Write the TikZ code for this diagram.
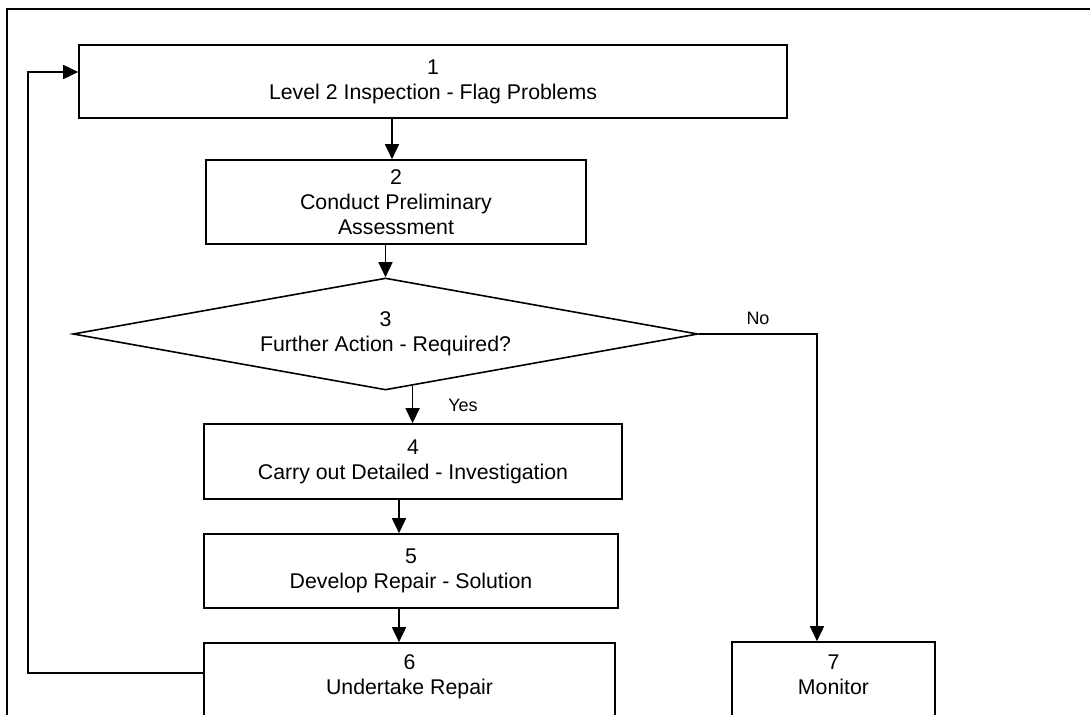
\documentclass[tikz,border=0pt]{standalone}
\usepackage{fontspec}
\setmainfont{Liberation Sans}
\usetikzlibrary{shapes.geometric,arrows.meta,calc}

\tikzset{
  stepbox/.style={draw, line width=1.6pt, rectangle, inner sep=0pt, align=center,
    font=\fontsize{21.3}{25}\selectfont},
  decision/.style={draw, line width=1.6pt, diamond, aspect=5.58, inner sep=0pt, align=center,
    font=\fontsize{21.3}{25}\selectfont},
  arr/.style={line width=1.6pt, -{Triangle[length=15pt,width=14pt]}},
  lbl/.style={font=\fontsize{18}{20}\selectfont, inner sep=0pt},
}

\begin{document}
\begin{tikzpicture}[x=1pt, y=-1pt]
  \useasboundingbox (0,0) rectangle (1090,715);
  \clip (0,0) rectangle (1090,715);

  % outer frame
  \draw[line width=2.6pt] (7,9) rectangle (1110,740);

  % process steps
  \node[stepbox, minimum width=708pt, minimum height=73pt] (b1) at (433,81.5) {1\\Level 2 Inspection - Flag Problems};
  \node[stepbox, minimum width=380pt, minimum height=84pt] (b2) at (396,202) {2\\Conduct Preliminary\\Assessment};
  \node[decision, minimum width=625pt, minimum height=112pt] (d) at (385.5,334) {3\\Further Action - Required?};
  \node[stepbox, minimum width=418pt, minimum height=75pt] (b4) at (413,461.5) {4\\Carry out Detailed - Investigation};
  \node[stepbox, minimum width=414pt, minimum height=74pt] (b5) at (411,571) {5\\Develop Repair - Solution};
  \node[stepbox, minimum width=411pt, minimum height=78pt, text depth=15pt] (b6) at (409.5,682) {6\\Undertake Repair};
  \node[stepbox, minimum width=203pt, minimum height=80pt, text depth=14pt] (b7) at (833.5,682) {7\\Monitor};

  % connector guide positions
  \coordinate (c12) at (392,0);
  \coordinate (c45) at (399,0);
  \coordinate (cno) at (817,0);
  \coordinate (cback) at (28,0);
  \coordinate (in1) at (0,72);
  \coordinate (out6) at (0,673);

  \draw[arr] (b1.south -| c12) -- (b2.north -| c12);
  \draw[arr] (b2.south -| d.north) -- (d.north);
  \coordinate (yesstart) at ($(d.south)!0.0864!(d.east)$);
  \draw[arr] (yesstart) -- (yesstart |- b4.north);
  \node[lbl] (yes) at (463,405) {Yes};
  \draw[arr] (d.east) -| (b7.north -| cno);
  \node[lbl] (no) at (758,318) {No};
  \draw[arr] (b4.south -| c45) -- (b5.north -| c45);
  \draw[arr] (b5.south -| c45) -- (b6.north -| c45);
  \draw[arr] (b6.west |- out6) -| (cback |- in1) -- (b1.west |- in1);
\end{tikzpicture}
\end{document}
